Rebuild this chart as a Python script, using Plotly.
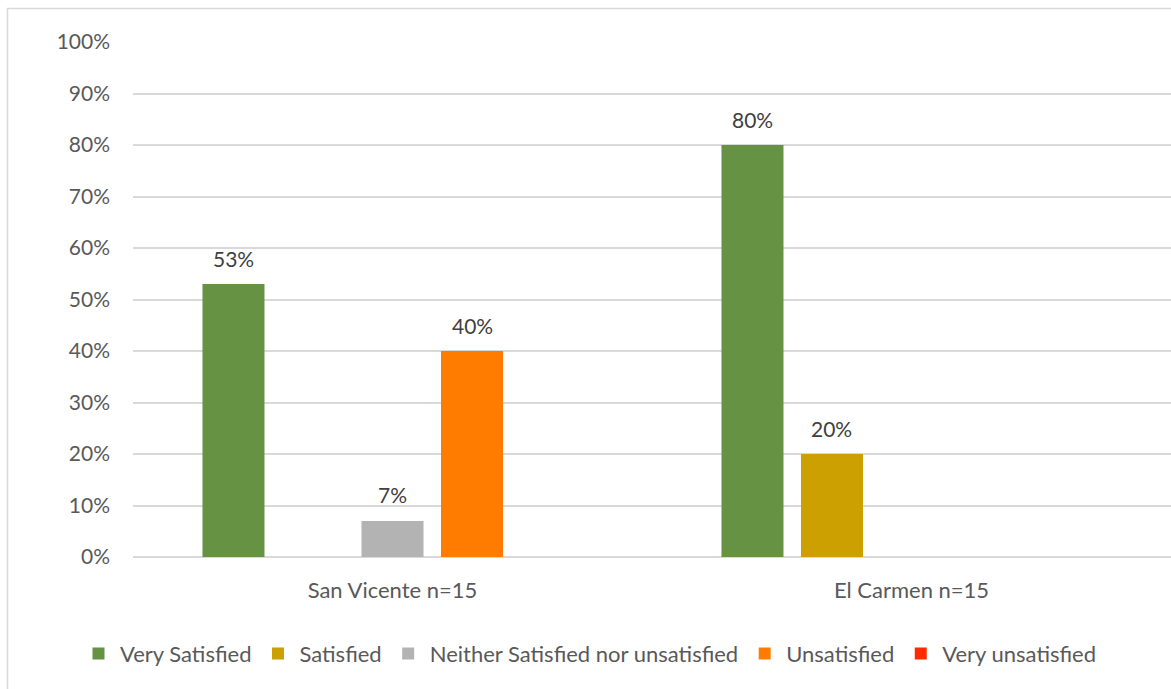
import plotly.graph_objects as go

# Survey results: satisfaction by community (share of respondents)
communities = ["San Vicente n=15", "El Carmen n=15"]
levels = [
    "Very Satisfied",
    "Satisfied",
    "Neither Satisfied nor unsatisfied",
    "Unsatisfied",
    "Very unsatisfied",
]
very_satisfied = [53, 80]
satisfied = [0, 20]
neutral = [7, 0]
unsatisfied = [40, 0]
very_unsatisfied = [0, 0]
y_ticks = list(range(0, 101, 10))

series = [very_satisfied, satisfied, neutral, unsatisfied, very_unsatisfied]
colors = ["#659343", "#cca000", "#b3b3b3", "#ff7c00", "#ff2a00"]

FONT = "Lato"
TXT = "#595959"
W, H = 1171, 689
M_L, M_R, M_T, M_B = 133, 0, 42, 132
BARGAP, GROUPGAP = 0.234, 0.22

fig = go.Figure()
for name, vals, col in zip(levels, series, colors):
    fig.add_trace(go.Bar(
        name=name, x=communities, y=vals,
        marker=dict(color=col, line=dict(width=0)),
        hoverinfo="skip",
    ))

# value labels above each non-zero bar, shifted to the bar's slot in its group
plot_w = W - M_L - M_R
slot = plot_w / len(communities) * (1 - BARGAP) / len(levels)
for i, (vals, col) in enumerate(zip(series, colors)):
    for cat, v in zip(communities, vals):
        if v:
            fig.add_annotation(
                x=cat, y=v, xref="x", yref="y", text=f"{v}%",
                showarrow=False, xshift=(i - (len(levels) - 1) / 2) * slot,
                yshift=26, yanchor="middle",
                font=dict(family=FONT, size=21, color="#404040"),
            )

# light frame around the whole chart
ph = H - M_T - M_B
fig.add_shape(
    type="rect", xref="paper", yref="paper",
    x0=(7.5 - M_L) / plot_w, x1=(1200 - M_L) / plot_w,
    y0=(H - M_B - 720) / ph, y1=(H - M_B - 8.5) / ph,
    line=dict(color="#d9d9d9", width=1.5), layer="below",
)

fig.update_layout(
    width=W, height=H,
    margin=dict(l=M_L, r=M_R, t=M_T, b=M_B),
    paper_bgcolor="white", plot_bgcolor="white",
    barmode="group", bargap=BARGAP, bargroupgap=GROUPGAP,
    font=dict(family=FONT, size=21, color=TXT),
    showlegend=True,
    legend=dict(
        orientation="h", x=(77 - M_L) / plot_w, xanchor="left",
        y=-0.188, yanchor="middle", itemwidth=33,
        font=dict(family=FONT, size=22, color=TXT),
        itemclick=False, itemdoubleclick=False, traceorder="normal",
    ),
    xaxis=dict(
        showgrid=False, showline=False, zeroline=False,
        ticks="outside", ticklen=14, tickcolor="rgba(0,0,0,0)",
        tickfont=dict(family=FONT, size=22, color=TXT),
        fixedrange=True,
    ),
    yaxis=dict(
        range=[0, 100], tickvals=y_ticks,
        ticktext=[f"{t}%" for t in y_ticks],
        showgrid=True, gridcolor="#d9d9d9", gridwidth=1.5,
        zeroline=True, zerolinecolor="#d9d9d9", zerolinewidth=1.5,
        showline=False, ticks="", ticklabelstandoff=22,
        tickfont=dict(family=FONT, size=21, color=TXT),
        fixedrange=True,
    ),
)

fig.write_html("out.html", config={"displayModeBar": False})
